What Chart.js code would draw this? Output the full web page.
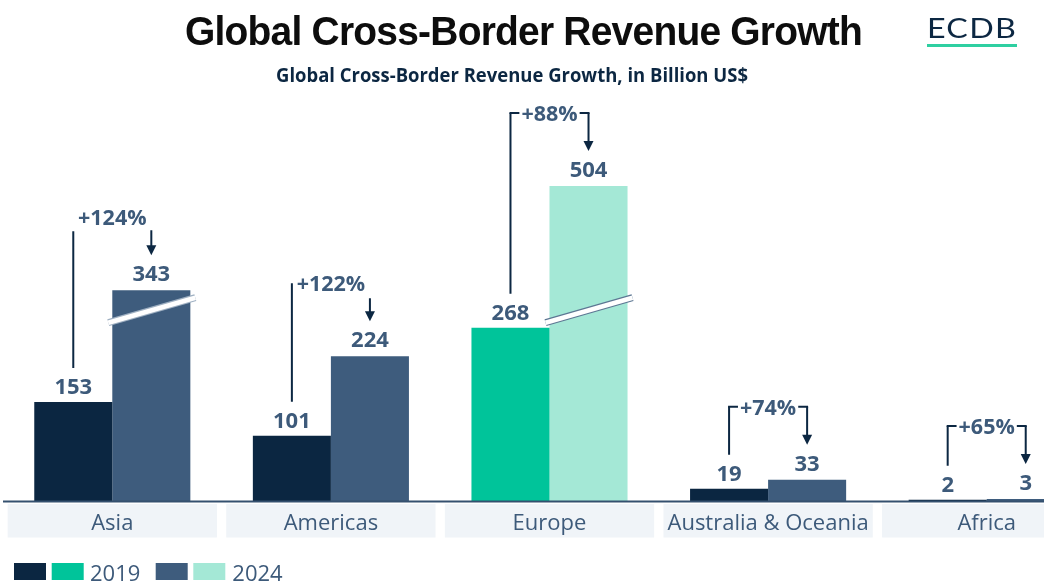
<!DOCTYPE html>
<html>
<head>
<meta charset="utf-8">
<script src="https://cdn.jsdelivr.net/npm/chart.js@4.4.1/dist/chart.umd.min.js"></script>
<style>
html,body{margin:0;padding:0;background:#fff;overflow:hidden;width:1044px;height:587px;}
#wrap{position:relative;width:1044px;height:587px;overflow:hidden;}
#c{position:absolute;left:0;top:0;width:1100px;height:587px;}
</style>
</head>
<body>
<div id="wrap"><canvas id="c" width="1100" height="587"></canvas></div>
<script>
// ---------- data ----------
const categories = ['Asia', 'Americas', 'Europe', 'Australia & Oceania', 'Africa'];
const revenue2019 = [153, 101, 268, 19, 2];
const revenue2024 = [343, 224, 504, 33, 3];
const growthLabels = ['+124%', '+122%', '+88%', '+74%', '+65%'];
const seriesLabels = ['2019', '2024'];
const titleText = 'Global Cross-Border Revenue Growth';
const subtitleText = 'Global Cross-Border Revenue Growth, in Billion US$';
const logoText = 'ECDB';

// ---------- styles ----------
const NAVY = '#0b2641', SLATE = '#3e5c7d', GREEN = '#00c49a', MINT = '#a4e8d6';
const TEXT = '#3d5a7a', LINE = '#0c2742', AXIS = '#34506f', BOX = '#f0f4f8';
const highlightCategory = 'Europe';
const annotationStyles = ['open-low', 'open-mid', 'bracket', 'bracket', 'bracket'];

// Broken linear scale: values above the break are shifted down by the gap
class BrokenLinearScale extends Chart.LinearScale {
  getPixelForValue(value, index) {
    const o = this.options;
    const v = (o.breakAt != null && value > o.breakAt) ? value - o.breakGap : value;
    return super.getPixelForValue(v, index);
  }
}
BrokenLinearScale.id = 'brokenLinear';
BrokenLinearScale.defaults = Chart.LinearScale.defaults;
Chart.register(BrokenLinearScale);

function fitText(ctx, text, font, color, left, baseline, width, spacing) {
  ctx.save();
  ctx.font = font;
  ctx.letterSpacing = spacing || '0px';
  const w = ctx.measureText(text).width;
  ctx.translate(left, baseline);
  ctx.scale(width / w, 1);
  ctx.fillStyle = color;
  ctx.textAlign = 'left';
  ctx.textBaseline = 'alphabetic';
  ctx.fillText(text, 0, 0);
  ctx.restore();
}

const decor = {
  id: 'decor',
  afterDraw(chart) {
    const ctx = chart.ctx;
    const area = chart.chartArea;
    const y = chart.scales.y;
    const m0 = chart.getDatasetMeta(0).data;
    const m1 = chart.getDatasetMeta(1).data;
    const pitch = (area.right - area.left) / categories.length;

    // header
    fitText(ctx, titleText, 'bold 40px "Liberation Sans", Arial, sans-serif', '#0d0d0d', 185, 45, 677, '-0.8px');
    fitText(ctx, subtitleText, 'bold 19px "Open Sans", sans-serif', LINE, 276, 82, 472);
    fitText(ctx, logoText, '400 26px Lato, sans-serif', LINE, 927, 38, 90, '1px');
    ctx.fillStyle = '#2ecfa1';
    ctx.fillRect(927, 44, 90, 3);

    // axis break bands
    const by = y.getPixelForValue(y.options.breakAt);
    [m1].forEach(meta => meta.forEach((bar, i) => {
      if (revenue2024[i] > y.options.breakAt) {
        const l = bar.x - bar.width / 2 - 4, r = bar.x + bar.width / 2 + 5;
        ctx.save();
        ctx.lineCap = 'butt';
        ctx.beginPath();
        ctx.moveTo(l, by + 12.5); ctx.lineTo(r, by - 12.5);
        ctx.strokeStyle = i === categories.indexOf(highlightCategory) ? '#5d7793' : '#9fb0c2';
        ctx.lineWidth = 7; ctx.stroke();
        ctx.strokeStyle = '#ffffff'; ctx.lineWidth = 4.5; ctx.stroke();
        ctx.restore();
      }
    }));

    // axis line
    ctx.save();
    ctx.strokeStyle = AXIS; ctx.lineWidth = 2;
    ctx.beginPath(); ctx.moveTo(area.left, area.bottom + 0.5); ctx.lineTo(area.right, area.bottom + 0.5); ctx.stroke();
    ctx.restore();

    // category boxes and labels
    ctx.save();
    categories.forEach((c, i) => {
      const cx = area.left + pitch * (i + 0.5);
      ctx.fillStyle = BOX;
      ctx.fillRect(cx - (pitch - 9.3) / 2, area.bottom + 3, pitch - 9.3, 33.5);
      ctx.fillStyle = TEXT;
      ctx.font = '400 22px "Open Sans", sans-serif';
      ctx.textAlign = 'center'; ctx.textBaseline = 'alphabetic';
      ctx.fillText(c, cx, area.bottom + 29);
    });
    ctx.restore();

    // value labels and growth annotations
    ctx.save();
    categories.forEach((c, i) => {
      const b0 = m0[i], b1 = m1[i];
      const base0 = b0.y - 8, base1 = b1.y - 9;
      ctx.fillStyle = TEXT;
      ctx.font = 'bold 22px "Open Sans", sans-serif';
      ctx.textAlign = 'center'; ctx.textBaseline = 'alphabetic';
      ctx.fillText(String(revenue2019[i]), b0.x, base0);
      ctx.fillText(String(revenue2024[i]), b1.x, base1);

      const cy = base1 - 64;
      const tBase = cy + 8;
      const cx = (b0.x + b1.x) / 2;
      ctx.font = 'bold 21.5px "Open Sans", sans-serif';
      ctx.fillText(growthLabels[i], cx, tBase);
      const tw = ctx.measureText(growthLabels[i]).width;
      const leftBottom = base0 - 26, tip = base1 - 26;
      const st = annotationStyles[i];
      let leftTop, arrowTop;
      ctx.strokeStyle = LINE; ctx.lineWidth = 2; ctx.lineCap = 'butt';
      if (st === 'bracket') {
        leftTop = cy; arrowTop = cy;
        ctx.beginPath();
        ctx.moveTo(b0.x - 1, cy); ctx.lineTo(cx - tw / 2 - 2, cy);
        ctx.moveTo(cx + tw / 2 + 2, cy); ctx.lineTo(b1.x + 1, cy);
        ctx.stroke();
      } else if (st === 'open-low') {
        leftTop = tBase + 6; arrowTop = tBase + 5;
      } else {
        leftTop = cy; arrowTop = tBase + 7;
      }
      ctx.beginPath();
      ctx.moveTo(b0.x, leftTop); ctx.lineTo(b0.x, leftBottom);
      ctx.moveTo(b1.x, arrowTop); ctx.lineTo(b1.x, tip - 8);
      ctx.stroke();
      ctx.fillStyle = LINE;
      ctx.beginPath();
      ctx.moveTo(b1.x - 5, tip - 10); ctx.lineTo(b1.x + 5, tip - 10); ctx.lineTo(b1.x, tip);
      ctx.closePath(); ctx.fill();
    });
    ctx.restore();

    // legend
    ctx.save();
    const sw = [[14, NAVY], [51.7, GREEN], [155.7, SLATE], [193.3, MINT]];
    sw.forEach(s => { ctx.fillStyle = s[1]; ctx.fillRect(s[0], 563, 32, 17); });
    ctx.fillStyle = TEXT;
    ctx.font = '400 22px "Open Sans", sans-serif';
    ctx.textAlign = 'left'; ctx.textBaseline = 'alphabetic';
    ctx.fillText(seriesLabels[0], 90, 581);
    ctx.fillText(seriesLabels[1], 232.3, 581);
    ctx.restore();
  }
};

const hi = categories.indexOf(highlightCategory);
new Chart(document.getElementById('c'), {
  type: 'bar',
  data: {
    labels: categories,
    datasets: [
      { label: seriesLabels[0], data: revenue2019,
        backgroundColor: categories.map((c, i) => i === hi ? GREEN : NAVY),
        barPercentage: 1, categoryPercentage: 0.714, borderWidth: 0 },
      { label: seriesLabels[1], data: revenue2024,
        backgroundColor: categories.map((c, i) => i === hi ? MINT : SLATE),
        barPercentage: 1, categoryPercentage: 0.714, borderWidth: 0 }
    ]
  },
  options: {
    responsive: false,
    animation: false,
    devicePixelRatio: 1,
    layout: { padding: { top: 113, bottom: 86, left: 3, right: 4 } },
    plugins: { legend: { display: false }, tooltip: { enabled: false }, title: { display: false } },
    scales: {
      x: { display: false },
      y: { type: 'brokenLinear', display: false, min: 0, max: 600, breakAt: 295, breakGap: 17 }
    }
  },
  plugins: [decor]
});
</script>
</body>
</html>
